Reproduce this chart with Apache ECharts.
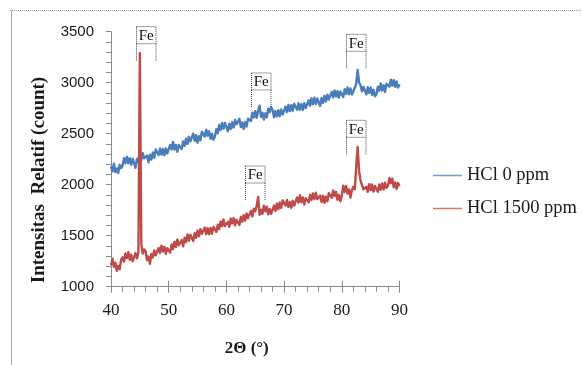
<!DOCTYPE html>
<html><head><meta charset="utf-8">
<script src="https://cdn.jsdelivr.net/npm/echarts@6/dist/echarts.min.js"></script>
<style>html,body{margin:0;padding:0;background:#fff}#c{width:582px;height:365px}</style>
</head><body><div id="c"></div>
<script>
// 2θ sampling (degrees)
const twoTheta = [
40,40.25,40.5,40.75,41,41.25,41.5,41.75,
42,42.25,42.5,42.75,43,43.25,43.5,43.75,
44,44.25,44.5,44.75,45,45.25,45.5,45.75,
46,46.25,46.5,46.75,47,47.25,47.5,47.75,
48,48.25,48.5,48.75,49,49.25,49.5,49.75,
50,50.25,50.5,50.75,51,51.25,51.5,51.75,
52,52.25,52.5,52.75,53,53.25,53.5,53.75,
54,54.25,54.5,54.75,55,55.25,55.5,55.75,
56,56.25,56.5,56.75,57,57.25,57.5,57.75,
58,58.25,58.5,58.75,59,59.25,59.5,59.75,
60,60.25,60.5,60.75,61,61.25,61.5,61.75,
62,62.25,62.5,62.75,63,63.25,63.5,63.75,
64,64.25,64.5,64.75,65,65.25,65.5,65.75,
66,66.25,66.5,66.75,67,67.25,67.5,67.75,
68,68.25,68.5,68.75,69,69.25,69.5,69.75,
70,70.25,70.5,70.75,71,71.25,71.5,71.75,
72,72.25,72.5,72.75,73,73.25,73.5,73.75,
74,74.25,74.5,74.75,75,75.25,75.5,75.75,
76,76.25,76.5,76.75,77,77.25,77.5,77.75,
78,78.25,78.5,78.75,79,79.25,79.5,79.75,
80,80.25,80.5,80.75,81,81.25,81.5,81.75,
82,82.25,82.5,82.75,83,83.25,83.5,83.75,
84,84.25,84.5,84.75,85,85.25,85.5,85.75,
86,86.25,86.5,86.75,87,87.25,87.5,87.75,
88,88.25,88.5,88.75,89,89.25,89.5,89.75,
90];

// HCl 0 ppm intensity (count)
const hcl0 = [
2180,2130,2205,2125,2160,2115,2195,2160,
2185,2260,2210,2275,2210,2260,2195,2255,
2240,2165,2255,2220,2300,2240,2310,2260,
2250,2285,2220,2295,2245,2315,2265,2345,
2350,2290,2355,2295,2350,2290,2355,2308,
2320,2390,2345,2420,2345,2390,2322,2390,
2400,2350,2425,2380,2450,2400,2470,2425,
2440,2500,2430,2485,2412,2475,2435,2520,
2530,2472,2539,2480,2525,2450,2500,2442,
2470,2545,2505,2585,2535,2605,2548,2605,
2595,2525,2597,2547,2612,2560,2635,2592,
2607,2645,2565,2610,2545,2615,2570,2647,
2665,2625,2705,2660,2720,2655,2725,2775,
2665,2705,2638,2700,2660,2745,2710,2760,
2735,2660,2722,2670,2730,2672,2738,2688,
2702,2765,2712,2781,2720,2780,2725,2794,
2795,2734,2798,2736,2790,2733,2800,2752,
2765,2827,2775,2847,2790,2853,2791,2845,
2835,2772,2850,2803,2872,2815,2883,2836,
2849,2910,2855,2925,2864,2918,2853,2914,
2910,2860,2937,2889,2954,2887,2943,2884,
2885,2950,2990,3125,3000,2975,2915,2960,
2942,2885,2955,2900,2952,2878,2930,2867,
2887,2960,2920,2993,2924,2975,2910,2990,
3005,2960,3030,2970,3025,2959,3013,2952,
2985];

// HCl 1500 ppm intensity (count)
const hcl1500 = [
1210,1275,1195,1235,1155,1205,1170,1265,
1288,1245,1325,1280,1338,1263,1313,1250,
1265,1330,1278,1330,3290,1420,1325,1365,
1345,1260,1295,1225,1320,1287,1355,1307,
1318,1380,1330,1403,1345,1391,1322,1378,
1380,1335,1415,1368,1440,1390,1463,1406,
1407,1458,1396,1480,1438,1513,1450,1510,
1506,1447,1525,1480,1550,1495,1565,1520,
1530,1580,1515,1575,1515,1575,1520,1586,
1592,1537,1607,1565,1640,1593,1659,1595,
1590,1636,1588,1668,1620,1673,1602,1657,
1652,1605,1683,1637,1702,1648,1718,1672,
1683,1743,1688,1765,1740,1790,1880,1705,
1755,1715,1795,1740,1785,1710,1762,1715,
1730,1795,1742,1815,1760,1825,1773,1846,
1855,1795,1850,1781,1830,1773,1842,1796,
1810,1875,1825,1898,1828,1875,1805,1868,
1877,1827,1900,1850,1915,1860,1922,1857,
1851,1894,1830,1891,1822,1883,1837,1916,
1928,1873,1943,1888,1930,1853,1900,1838,
1890,1990,1928,1987,1912,1953,1875,1945,
1980,1955,2180,2370,2130,2040,2030,1955,
1940,1980,1930,2005,1947,2003,1933,1988,
1980,1930,2003,1951,2012,1953,2019,1969,
1990,2065,2015,2060,1975,2023,1957,2016,
1985];

const seriesNames = ['HCl 0 ppm', 'HCl 1500 ppm'];
const xTitle = '2Θ (°)';
const yTitle = 'Intensitas  Relatif (count)';
// Fe peak annotations: 2θ position and intensity at the foot of the bracket
const feText = ['Fe', 'Fe', 'Fe', 'Fe', 'Fe'];
const feX = [46.1, 65.9, 82.45, 82.4, 64.9];
const feY = [3216, 2762, 3141, 2298, 1850];

const AXIS_COLOR = '#8a8a8a';
const TEXT_COLOR = '#1a1a1a';

const zip = (xs, ys) => xs.map((x, i) => [x, ys[i]]);

const chart = echarts.init(document.getElementById('c'), null, {renderer: 'canvas'});

const option = {
  animation: false,
  backgroundColor: '#ffffff',
  grid: {left: 111, right: 182.5, top: 31.7, bottom: 78.3, containLabel: false},
  legend: {
    data: [
      {name: seriesNames[0], itemStyle: {color: '#6f9bd2'}},
      {name: seriesNames[1], itemStyle: {color: '#d77573'}}
    ],
    orient: 'vertical',
    left: 433, top: 166, padding: 0,
    icon: 'rect',
    itemWidth: 29, itemHeight: 1.5,
    itemGap: 14,
    textStyle: {fontFamily: 'Liberation Serif', fontSize: 18.5, color: TEXT_COLOR}
  },
  xAxis: [
    {
      type: 'value', min: 40, max: 90, interval: 10,
      axisLine: {show: true, onZero: false, lineStyle: {color: AXIS_COLOR, width: 1}},
      axisTick: {show: true, length: 6, lineStyle: {color: AXIS_COLOR}},
      minorTick: {show: true, splitNumber: 5, length: 5, lineStyle: {color: AXIS_COLOR}},
      splitLine: {show: false}, minorSplitLine: {show: false},
      axisLabel: {margin: 15, fontFamily: 'Liberation Serif', fontSize: 17, color: TEXT_COLOR}
    },
    {
      type: 'value', min: 40, max: 90, interval: 10, position: 'bottom',
      axisLine: {show: false, onZero: false},
      axisTick: {show: true, inside: true, length: 6, lineStyle: {color: AXIS_COLOR}},
      axisLabel: {show: false},
      splitLine: {show: false}
    }
  ],
  yAxis: {
    type: 'value', min: 1000, max: 3500, interval: 500,
    axisLine: {show: true, onZero: false, lineStyle: {color: AXIS_COLOR, width: 1}},
    axisTick: {show: true, length: 5, lineStyle: {color: AXIS_COLOR}},
    minorTick: {show: true, splitNumber: 5, length: 5, lineStyle: {color: AXIS_COLOR}},
    splitLine: {show: false}, minorSplitLine: {show: false},
    axisLabel: {margin: 17, fontFamily: 'Liberation Sans', fontSize: 15, color: TEXT_COLOR,
      formatter: v => String(v)}
  },
  graphic: [
    {type: 'line', shape: {x1: 10, y1: 10.5, x2: 582, y2: 10.5}, style: {stroke: '#9a9a9a', lineWidth: 1, lineDash: [1, 1]}, silent: true},
    {type: 'line', shape: {x1: 11.5, y1: 10, x2: 11.5, y2: 365}, style: {stroke: '#a8a8a8', lineWidth: 1}, silent: true},
    {type: 'text', x: 38.6, y: 180, rotation: Math.PI / 2,
      style: {text: yTitle, font: 'bold 19px "Liberation Serif"', fill: TEXT_COLOR, align: 'center', verticalAlign: 'middle'}},
    {type: 'text', x: 246.7, y: 349,
      style: {text: xTitle, font: 'bold 17px "Liberation Serif"', fill: TEXT_COLOR, align: 'center', verticalAlign: 'middle'}}
  ],
  series: [
    {
      name: seriesNames[0], type: 'line', data: zip(twoTheta, hcl0),
      symbol: 'none', smooth: false, sampling: null,
      lineStyle: {color: '#4a7ebb', width: 2.4, join: 'round'},
      itemStyle: {color: '#4a7ebb'}, z: 2
    },
    {
      name: seriesNames[1], type: 'line', data: zip(twoTheta, hcl1500),
      symbol: 'none', smooth: false, sampling: null,
      lineStyle: {color: '#be4b48', width: 2.4, join: 'round'},
      itemStyle: {color: '#be4b48'}, z: 3
    },
    {
      name: 'Fe', type: 'custom', clip: false, z: 4,
      data: feX.map((x, i) => [x, feY[i], feText[i]]),
      renderItem: function (params, api) {
        const p = api.coord([api.value(0), api.value(1)]);
        const w = 19.5, h = 17, leg = 17;
        const x0 = Math.round(p[0] - w / 2) + 0.5;
        const yb = p[1];
        const yBoxB = yb - leg, yTop = yBoxB - h;
        const dash = {stroke: '#404040', lineWidth: 1, lineDash: [1, 1], fill: 'none'};
        return {type: 'group', children: [
          {type: 'rect', shape: {x: x0, y: yTop, width: w, height: h}, style: dash},
          {type: 'line', shape: {x1: x0, y1: yBoxB, x2: x0, y2: yb}, style: dash},
          {type: 'line', shape: {x1: x0 + w, y1: yBoxB, x2: x0 + w, y2: yb}, style: dash},
          {type: 'text', style: {text: feText[params.dataIndex], x: x0 + w / 2, y: yTop + h / 2 + 1,
            align: 'center', verticalAlign: 'middle', font: '15px "Liberation Serif"', fill: '#111'}}
        ]};
      }
    }
  ]
};
chart.setOption(option);
</script>
</body></html>
